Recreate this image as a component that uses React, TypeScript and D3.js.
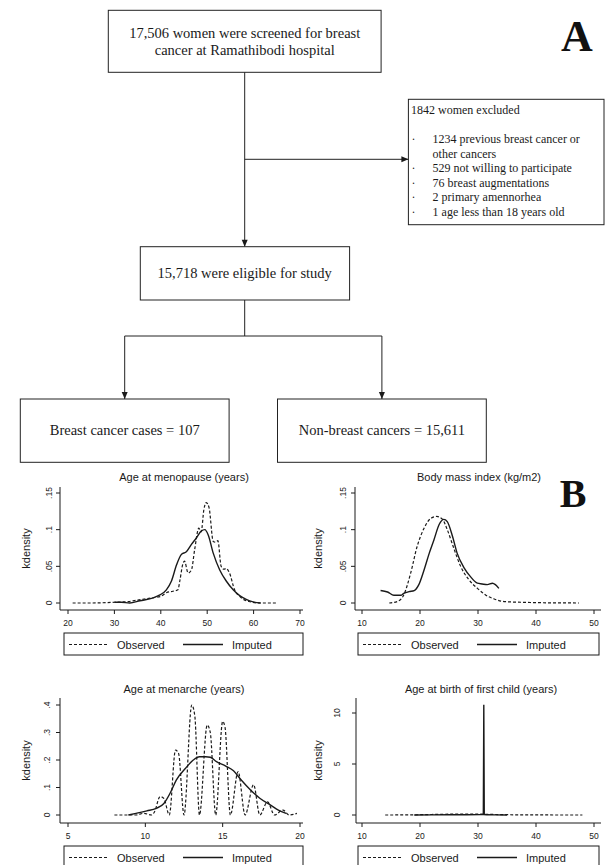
import React from "react";
import * as d3 from "d3";

// ---------------- Flowchart text ----------------
const screenedLines = ["17,506 women were screened for breast", "cancer at Ramathibodi hospital"];
const excludedTitle = "1842 women excluded";
const excludedItems = [
  { bullet: true, text: "1234 previous breast cancer or" },
  { bullet: false, text: "other cancers" },
  { bullet: true, text: "529 not willing to participate" },
  { bullet: true, text: "76 breast augmentations" },
  { bullet: true, text: "2 primary amennorhea" },
  { bullet: true, text: "1 age less than 18 years old" },
];
const eligibleText = "15,718 were eligible for study";
const casesText = "Breast cancer cases = 107";
const nonCasesText = "Non-breast cancers = 15,611";

// ---------------- Density data ----------------
// Age at menopause
const menoObsX = [21, 25, 30, 33, 35, 38, 40, 41.2, 42.6, 43.7, 44.1, 44.7, 45.1, 45.9, 46.6, 47.3, 48.2, 48.7, 49.3, 49.8, 50.4, 51.3, 51.8, 52.3, 53.0, 53.6, 54.1, 54.8, 55.9, 57, 59, 61.3, 65];
const menoObsY = [0, 0, 0.001, 0.002, 0.004, 0.007, 0.009, 0.014, 0.016, 0.018, 0.03, 0.052, 0.057, 0.041, 0.045, 0.073, 0.102, 0.097, 0.128, 0.137, 0.13, 0.084, 0.083, 0.085, 0.05, 0.046, 0.047, 0.041, 0.018, 0.009, 0.002, 0, 0];
const menoImpX = [30, 31.5, 33.3, 35.5, 38.4, 39.8, 41.2, 42.3, 43.4, 44.4, 45.5, 46.6, 47.7, 48.7, 49.5, 50.2, 51.3, 52.7, 54.1, 55.6, 57, 58.4, 59.9, 61.5];
const menoImpY = [0.001, 0.001, 0, 0.003, 0.007, 0.011, 0.018, 0.03, 0.052, 0.066, 0.07, 0.08, 0.089, 0.098, 0.1, 0.093, 0.068, 0.045, 0.03, 0.018, 0.01, 0.005, 0.0015, 0];

// Body mass index
const bmiObsX = [14.7, 16.1, 17.2, 18.4, 19.5, 20.7, 21.8, 22.9, 23.9, 24.7, 25.9, 27, 28.4, 29.9, 31.3, 32.8, 34.5, 37.4, 40, 47.4];
const bmiObsY = [0, 0.002, 0.011, 0.041, 0.077, 0.102, 0.115, 0.118, 0.114, 0.1, 0.073, 0.05, 0.032, 0.02, 0.011, 0.0055, 0.002, 0.001, 0.0005, 0];
const bmiImpX = [13.2, 14.4, 15.5, 16.7, 17.2, 18.1, 19.0, 19.8, 20.7, 21.6, 22.4, 23.3, 24.1, 24.7, 25.6, 26.4, 27.6, 28.7, 29.9, 30.7, 31.6, 32.5, 33.0, 33.6];
const bmiImpY = [0.017, 0.015, 0.0105, 0.0105, 0.013, 0.0155, 0.017, 0.025, 0.045, 0.068, 0.086, 0.107, 0.114, 0.111, 0.091, 0.068, 0.048, 0.036, 0.027, 0.026, 0.025, 0.027, 0.025, 0.02];

// Age at menarche
const menarObsX = [8.0, 8.8, 9.4, 9.9, 10.4, 10.6, 10.95, 11.2, 11.55, 11.95, 12.15, 12.5, 13.0, 13.2, 13.5, 14.0, 14.2, 14.55, 15.0, 15.15, 15.5, 16.0, 16.45, 17.0, 17.4, 17.9, 18.35, 18.9, 19.3, 19.8];
const menarObsY = [0, 0, 0, 0.006, 0, 0.012, 0.067, 0.06, 0, 0.236, 0.224, 0, 0.4, 0.36, 0, 0.327, 0.3, 0, 0.34, 0.32, 0, 0.158, 0, 0.11, 0, 0.048, 0, 0.018, 0, 0.006];
const menarImpX = [8.9, 9.4, 10.1, 10.7, 11.2, 11.6, 12.0, 12.6, 13.1, 13.5, 13.9, 14.2, 14.6, 15.2, 15.7, 16.2, 16.8, 17.4, 18.1, 18.6, 19.1];
const menarImpY = [0, 0.006, 0.015, 0.024, 0.042, 0.079, 0.127, 0.17, 0.2, 0.212, 0.212, 0.21, 0.194, 0.178, 0.161, 0.127, 0.091, 0.061, 0.036, 0.018, 0.006];

// Age at birth of first child
const birthObsX = [14, 18, 20, 22, 25, 28, 30, 32, 35, 38, 42, 48];
const birthObsY = [0, 0.01, 0.03, 0.05, 0.08, 0.1, 0.09, 0.06, 0.03, 0.01, 0.003, 0];
const birthImpX = [19, 22, 25, 28, 30.5, 30.92, 31.0, 31.08, 31.5, 33, 35];
const birthImpY = [0, 0.01, 0.02, 0.03, 0.04, 0.04, 10.8, 0.04, 0.03, 0.01, 0];

// Axis ticks
const menoTicks = [20, 30, 40, 50, 60, 70];
const bmiTicks = [10, 20, 30, 40, 50];
const menarTicks = [5, 10, 15, 20];
const birthTicks = [10, 20, 30, 40, 50];
const smallYTicks = [0, 0.05, 0.1, 0.15];
const smallYLabels = ["0", ".05", ".1", ".15"];
const menarYTicks = [0, 0.1, 0.2, 0.3, 0.4];
const menarYLabels = ["0", ".1", ".2", ".3", ".4"];
const birthYTicks = [0, 5, 10];
const birthYLabels = ["0", "5", "10"];

const legendLabels = ["Observed", "Imputed"];

const SERIF = "'Liberation Serif', 'Times New Roman', serif";
const SANS = "'Liberation Sans', Arial, sans-serif";
const INK = "#1a1a1a";

type PanelProps = {
  title: string;
  titleX: number;
  titleY: number;
  xDomain: [number, number];
  xRange: [number, number];
  axisX: [number, number];
  yDomain: [number, number];
  yRange: [number, number];
  axisYTop: number;
  axisYBottom: number;
  xTicks: number[];
  yTicks: number[];
  yLabels: string[];
  yLabelX: number;
  yTitleX: number;
  obsX: number[];
  obsY: number[];
  impX: number[];
  impY: number[];
  impLinear?: boolean;
  legendX: [number, number];
};

function Panel(p: PanelProps) {
  const x = d3.scaleLinear().domain(p.xDomain).range(p.xRange);
  const y = d3.scaleLinear().domain(p.yDomain).range(p.yRange);
  const mk = (curve: any) =>
    d3
      .line<[number, number]>()
      .x((d) => x(d[0]))
      .y((d) => y(d[1]))
      .curve(curve);
  const obsPath = mk(d3.curveMonotoneX)(p.obsX.map((v, i) => [v, p.obsY[i]] as [number, number])) || "";
  const impPath = mk(p.impLinear ? d3.curveLinear : d3.curveMonotoneX)(
    p.impX.map((v, i) => [v, p.impY[i]] as [number, number])
  ) || "";
  const [ax0, ax1] = p.axisX;
  const yMid = (p.axisYTop + p.axisYBottom) / 2;
  const legTop = p.axisYBottom + 23;
  const L = p.legendX[0];
  return (
    <g>
      <text x={p.titleX} y={p.titleY} textAnchor="middle" fontFamily={SANS} fontSize={11} fill={INK}>
        {p.title}
      </text>
      {/* y axis */}
      <line x1={ax0} x2={ax0} y1={p.axisYTop} y2={p.axisYBottom} stroke={INK} strokeWidth={1} />
      {p.yTicks.map((t, i) => (
        <g key={"y" + i}>
          <line x1={ax0 - 4} x2={ax0} y1={y(t)} y2={y(t)} stroke={INK} strokeWidth={1} />
          <text
            transform={`translate(${p.yLabelX},${y(t)}) rotate(-90)`}
            textAnchor="middle"
            fontFamily={SANS}
            fontSize={8.5}
            fill={INK}
          >
            {p.yLabels[i]}
          </text>
        </g>
      ))}
      <text
        transform={`translate(${p.yTitleX},${yMid}) rotate(-90)`}
        textAnchor="middle"
        fontFamily={SANS}
        fontSize={11}
        fill={INK}
      >
        kdensity
      </text>
      {/* x axis */}
      <line x1={ax0} x2={ax1} y1={p.axisYBottom} y2={p.axisYBottom} stroke={INK} strokeWidth={1} />
      {p.xTicks.map((t, i) => (
        <g key={"x" + i}>
          <line x1={x(t)} x2={x(t)} y1={p.axisYBottom} y2={p.axisYBottom + 4} stroke={INK} strokeWidth={1} />
          <text x={x(t)} y={p.axisYBottom + 15.5} textAnchor="middle" fontFamily={SANS} fontSize={8.5} fill={INK}>
            {String(t)}
          </text>
        </g>
      ))}
      {/* curves */}
      <path d={obsPath} fill="none" stroke={INK} strokeWidth={1.2} strokeDasharray="3,2" />
      <path d={impPath} fill="none" stroke={INK} strokeWidth={1.4} />
      {/* legend */}
      <rect x={L} y={legTop} width={p.legendX[1] - L} height={22} fill="white" stroke={INK} strokeWidth={1} />
      <line x1={L + 5} x2={L + 45} y1={legTop + 11.5} y2={legTop + 11.5} stroke={INK} strokeWidth={1.2} strokeDasharray="3,2" />
      <text x={L + 53} y={legTop + 15.5} fontFamily={SANS} fontSize={11} fill={INK}>
        {legendLabels[0]}
      </text>
      <line x1={L + 119} x2={L + 159} y1={legTop + 11.5} y2={legTop + 11.5} stroke={INK} strokeWidth={1.4} />
      <text x={L + 168} y={legTop + 15.5} fontFamily={SANS} fontSize={11} fill={INK}>
        {legendLabels[1]}
      </text>
    </g>
  );
}

function ArrowDown({ x, y }: { x: number; y: number }) {
  return <polygon points={`${x - 3},${y - 7} ${x + 3},${y - 7} ${x},${y}`} fill={INK} />;
}
function ArrowRight({ x, y }: { x: number; y: number }) {
  return <polygon points={`${x - 7},${y - 3} ${x - 7},${y + 3} ${x},${y}`} fill={INK} />;
}

function Flowchart() {
  const stroke = "#222";
  const cx = 244.7;
  return (
    <g>
      {/* Box 1 */}
      <rect x={108.3} y={10.3} width={272.8} height={62} fill="white" stroke={stroke} strokeWidth={1} />
      {screenedLines.map((s, i) => (
        <text key={i} x={cx} y={38 + i * 17} textAnchor="middle" fontFamily={SERIF} fontSize={14.5} fill={INK}>
          {s}
        </text>
      ))}
      {/* vertical line to box 2 */}
      <line x1={cx} x2={cx} y1={72.3} y2={246.7} stroke={stroke} strokeWidth={1} />
      <ArrowDown x={cx} y={246.7} />
      {/* branch to exclusion */}
      <line x1={cx} x2={408.4} y1={159.3} y2={159.3} stroke={stroke} strokeWidth={1} />
      <ArrowRight x={408.4} y={159.3} />
      {/* exclusion box */}
      <rect x={408.4} y={99.3} width={195.6} height={125.4} fill="white" stroke={stroke} strokeWidth={1} />
      <text x={411} y={114} fontFamily={SERIF} fontSize={12} fill={INK}>
        {excludedTitle}
      </text>
      {excludedItems.map((it, i) => (
        <g key={i}>
          {it.bullet && (
            <text x={411.5} y={143 + i * 14.5} fontFamily={SERIF} fontSize={12} fill={INK}>
              ·
            </text>
          )}
          <text x={432.6} y={143 + i * 14.5} fontFamily={SERIF} fontSize={12} fill={INK}>
            {it.text}
          </text>
        </g>
      ))}
      {/* Box 2 */}
      <rect x={140.3} y={246.7} width={209.3} height={53.3} fill="white" stroke={stroke} strokeWidth={1} />
      <text x={cx} y={278.3} textAnchor="middle" fontFamily={SERIF} fontSize={14.5} fill={INK}>
        {eligibleText}
      </text>
      {/* split */}
      <line x1={cx} x2={cx} y1={300} y2={336} stroke={stroke} strokeWidth={1} />
      <line x1={124.7} x2={381.9} y1={336} y2={336} stroke={stroke} strokeWidth={1} />
      <line x1={124.7} x2={124.7} y1={336} y2={399} stroke={stroke} strokeWidth={1} />
      <line x1={381.9} x2={381.9} y1={336} y2={399} stroke={stroke} strokeWidth={1} />
      <ArrowDown x={124.7} y={399} />
      <ArrowDown x={381.9} y={399} />
      {/* Box 3 and 4 */}
      <rect x={20.3} y={399} width={208.8} height={63.3} fill="white" stroke={stroke} strokeWidth={1} />
      <text x={124.7} y={435} textAnchor="middle" fontFamily={SERIF} fontSize={14.5} fill={INK}>
        {casesText}
      </text>
      <rect x={277.5} y={399} width={208.8} height={63.3} fill="white" stroke={stroke} strokeWidth={1} />
      <text x={381.9} y={435} textAnchor="middle" fontFamily={SERIF} fontSize={14.5} fill={INK}>
        {nonCasesText}
      </text>
      {/* Panel labels */}
      <text x={577} y={50.7} textAnchor="middle" fontFamily={SERIF} fontWeight="bold" fontSize={44} fill="#111">
        A
      </text>
      <text x={573} y={507} textAnchor="middle" fontFamily={SERIF} fontWeight="bold" fontSize={40} fill="#111">
        B
      </text>
    </g>
  );
}

export default function App() {
  return (
    <svg
      width={608}
      height={865}
      viewBox="0 0 608 865"
      style={{ position: "absolute", left: 0, top: 0, background: "white" }}
    >
      <rect x={0} y={0} width={608} height={865} fill="white" />
      <Flowchart />
      <Panel
        title="Age at menopause (years)"
        titleX={184}
        titleY={481}
        xDomain={[20, 70]}
        xRange={[68, 300]}
        axisX={[60, 303]}
        yDomain={[0, 0.15]}
        yRange={[603, 493]}
        axisYTop={487}
        axisYBottom={610}
        xTicks={menoTicks}
        yTicks={smallYTicks}
        yLabels={smallYLabels}
        yLabelX={51.5}
        yTitleX={30}
        obsX={menoObsX}
        obsY={menoObsY}
        impX={menoImpX}
        impY={menoImpY}
        legendX={[64, 303]}
      />
      <Panel
        title="Body mass index (kg/m2)"
        titleX={479}
        titleY={481}
        xDomain={[10, 50]}
        xRange={[362, 594]}
        axisX={[355, 601]}
        yDomain={[0, 0.15]}
        yRange={[603, 493]}
        axisYTop={487}
        axisYBottom={610}
        xTicks={bmiTicks}
        yTicks={smallYTicks}
        yLabels={smallYLabels}
        yLabelX={345.5}
        yTitleX={321.5}
        obsX={bmiObsX}
        obsY={bmiObsY}
        impX={bmiImpX}
        impY={bmiImpY}
        legendX={[358, 599]}
      />
      <Panel
        title="Age at menarche (years)"
        titleX={184}
        titleY={693}
        xDomain={[5, 20]}
        xRange={[68, 300]}
        axisX={[60, 303]}
        yDomain={[0, 0.4]}
        yRange={[815, 705]}
        axisYTop={698}
        axisYBottom={823}
        xTicks={menarTicks}
        yTicks={menarYTicks}
        yLabels={menarYLabels}
        yLabelX={50}
        yTitleX={30}
        obsX={menarObsX}
        obsY={menarObsY}
        impX={menarImpX}
        impY={menarImpY}
        legendX={[64, 303]}
      />
      <Panel
        title="Age at birth of first child (years)"
        titleX={481}
        titleY={693}
        xDomain={[10, 50]}
        xRange={[362, 594]}
        axisX={[356, 601]}
        yDomain={[0, 10]}
        yRange={[815, 713]}
        axisYTop={698}
        axisYBottom={823}
        xTicks={birthTicks}
        yTicks={birthYTicks}
        yLabels={birthYLabels}
        yLabelX={340}
        yTitleX={322}
        obsX={birthObsX}
        obsY={birthObsY}
        impX={birthImpX}
        impY={birthImpY}
        impLinear
        legendX={[358, 599]}
      />
    </svg>
  );
}
